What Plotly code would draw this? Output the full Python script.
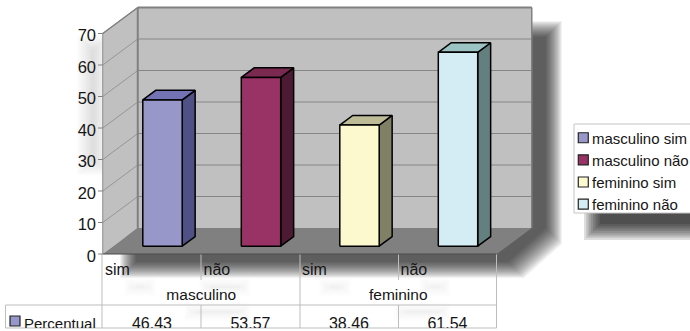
import plotly.graph_objects as go

# Chart values
categories = ["masculino sim", "masculino não", "feminino sim", "feminino não"]
group_labels = ["masculino", "feminino"]
answer_labels = ["sim", "não", "sim", "não"]
values = [46.43, 53.57, 38.46, 61.54]
value_labels = ["46.43", "53.57", "38.46", "61.54"]
y_ticks = [0, 10, 20, 30, 40, 50, 60, 70]
series_name = "Percentual"

# Bar colours: front, top, side
front_colors = ["#9797C9", "#993366", "#FDF9CF", "#D4ECF3"]
top_colors = ["#7272B4", "#7A2950", "#BDBB98", "#9CC3C3"]
side_colors = ["#4E5086", "#4D1A33", "#808067", "#647F7F"]

W, H = 690, 331
PLOT_BOTTOM = 328      # the table's last row is cut off here
X0, X_UNIT = 152.0, 98.5   # pixel position of category 0, pixels per category
Y0, Y_UNIT = 254.0, 3.15   # pixel position of value 0, pixels per unit
DEPTH_X, DEPTH_Y = 35 / X_UNIT, 26 / Y_UNIT  # oblique projection of the floor depth


def proj(cat, val, depth=0.0):
    """Oblique projection from chart space to the flat axes."""
    return cat + depth * DEPTH_X, val + depth * DEPTH_Y


def cat_at(px):
    return (px - X0) / X_UNIT


def val_at(py):
    return (Y0 - py) / Y_UNIT


fig = go.Figure()


def face(points, fill, line_color=None, line_width=0.0):
    xs = [p[0] for p in points]
    ys = [p[1] for p in points]
    fig.add_trace(go.Scatter(
        x=xs + xs[:1], y=ys + ys[:1], mode="lines", fill="toself", fillcolor=fill,
        line=dict(color=line_color or fill, width=line_width), hoverinfo="skip",
    ))


def segment(p, q, color, width=1.0):
    fig.add_trace(go.Scatter(
        x=[p[0], q[0]], y=[p[1], q[1]], mode="lines",
        line=dict(color=color, width=width), hoverinfo="skip",
    ))


def label(x, y, text, position="middle center", size=15.5, color="#151515", xaxis="x", yaxis="y"):
    fig.add_trace(go.Scatter(
        x=[x], y=[y], mode="text", text=[text], textposition=position,
        textfont=dict(family="Liberation Sans", size=size, color=color),
        hoverinfo="skip", xaxis=xaxis, yaxis=yaxis, cliponaxis=True,
    ))


# Walls and floor
LEFT, RIGHT, TOP = -0.5, 3.5, 70
WALL = "#C0C0C0"
GRID = "#868686"
face([proj(LEFT, 0), proj(LEFT, 0, 1), proj(LEFT, TOP, 1), proj(LEFT, TOP)], WALL)
face([proj(LEFT, 0, 1), proj(RIGHT, 0, 1), proj(RIGHT, TOP, 1), proj(LEFT, TOP, 1)], WALL)
face([proj(LEFT, 0), proj(RIGHT, 0), proj(RIGHT, 0, 1), proj(LEFT, 0, 1)], "#808080")

for tick in y_ticks[1:]:
    segment(proj(LEFT, tick), proj(LEFT, tick, 1), "#969696", 1)
    segment(proj(LEFT, tick, 1), proj(RIGHT, tick, 1), GRID, 1)
segment(proj(LEFT, 0), proj(LEFT, TOP), "#8C8C8C", 1)
segment(proj(LEFT, TOP), proj(LEFT, TOP, 1), "#808080", 1.5)
segment(proj(LEFT, 0, 1), proj(LEFT, TOP, 1), "#808080", 2)
segment(proj(LEFT, TOP, 1), proj(RIGHT, TOP, 1), "#808080", 2)
segment(proj(RIGHT, TOP, 1), proj(RIGHT, 0, 1), "#808080", 1.5)
segment(proj(LEFT, 0), proj(RIGHT, 0), "#4A4A4A", 1.2)

# Bars
BAR_HALF = 0.2
D_FRONT, D_BACK = 0.3, 0.67
for i, v in enumerate(values):
    l, r = i - BAR_HALF, i + BAR_HALF
    face([proj(r, 0, D_FRONT), proj(r, 0, D_BACK), proj(r, v, D_BACK), proj(r, v, D_FRONT)],
         side_colors[i], "#000000", 1.5)
    face([proj(l, v, D_FRONT), proj(r, v, D_FRONT), proj(r, v, D_BACK), proj(l, v, D_BACK)],
         top_colors[i], "#000000", 1.5)
    face([proj(l, 0, D_FRONT), proj(r, 0, D_FRONT), proj(r, v, D_FRONT), proj(l, v, D_FRONT)],
         front_colors[i], "#000000", 1.5)

# Value axis ticks and labels
for tick in y_ticks:
    segment(proj(cat_at(98), tick), proj(LEFT, tick), "#808080", 1)
    label(cat_at(96), tick - 1.2, str(tick), "middle left", size=16.5)

# Data table text
for i, answer in enumerate(answer_labels):
    label(i - 0.5 + cat_at(105) - cat_at(102.75), val_at(271), answer, "middle right", size=16)
    label(i, val_at(324.5), value_labels[i], size=16)
for g, group in enumerate(group_labels):
    label(2 * g + 0.5, val_at(296), group, size=15.5)
label(cat_at(24), val_at(325), series_name, "middle right", size=15)
fig.add_trace(go.Scatter(
    x=[cat_at(15)], y=[val_at(321)], mode="markers",
    marker=dict(symbol="square", size=10, color=front_colors[0], line=dict(color="#222222", width=1.2)),
    hoverinfo="skip",
))

# Legend, drawn in its own small axes so the last row is cut at the frame
LEG_L, LEG_R, LEG_T, LEG_B = 574, 690, 124, 213
for row, name in enumerate(categories):
    fig.add_trace(go.Scatter(
        x=[0.08], y=[row], mode="markers",
        marker=dict(symbol="square", size=10, color=front_colors[row], line=dict(color="#222222", width=1.2)),
        hoverinfo="skip", xaxis="x2", yaxis="y2",
    ))
    label(0.155, row + 0.1, name, "middle right", size=15, xaxis="x2", yaxis="y2")


# Soft shadows, built from nested translucent polygons
def to_paper(x, y):
    return x / W, 1 - y / H


def blurred(points, radius, peak, steps=18):
    cx = sum(p[0] for p in points) / len(points)
    cy = sum(p[1] for p in points) / len(points)
    alpha = 1 - (1 - peak) ** (1 / steps)
    shapes = []
    for s in range(steps):
        e = radius * (1 - 2 * s / (steps - 1))
        pts = []
        for x, y in points:
            sx = (x > cx) - (x < cx)
            sy = (y > cy) - (y < cy)
            pts.append(to_paper(x + sx * e, y + sy * e))
        path = "M " + " L ".join(f"{a:.4f},{b:.4f}" for a, b in pts) + " Z"
        shapes.append(dict(type="path", path=path, xref="paper", yref="paper", layer="below",
                           fillcolor=f"rgba(0,0,0,{alpha:.4f})", line=dict(width=0)))
    return shapes


def rect_blur(x0, y0, x1, y1, radius, peak, steps=8):
    return blurred([(x0, y0), (x1, y0), (x1, y1), (x0, y1)], radius, peak, steps)


def rule(x0, y0, x1, y1, color="#BDBDBD"):
    (a, b), (c, d) = to_paper(x0, y0), to_paper(x1, y1)
    return dict(type="line", x0=a, y0=b, x1=c, y1=d, xref="paper", yref="paper", layer="below",
                line=dict(color=color, width=1))


shapes = []
shapes += blurred([(150, 29), (554, 29), (554, 236), (516, 270), (128, 270), (128, 40)], 8, 0.62)
shapes += rect_blur(592, 145, 720, 232, 8, 0.68)
# faint haze round the axis labels and table cells
shapes += rect_blur(84, 42, 102, 168, 7, 0.12)
for x0, x1 in [(130, 150), (205, 245), (325, 345), (425, 445)]:
    shapes += rect_blur(x0, 284, x1, 290, 6, 0.05)
for x0, x1 in [(190, 245), (400, 445)]:
    shapes += rect_blur(x0, 309, x1, 315, 6, 0.05)

# Table rules
for x in [102, 300, 496.5]:
    shapes.append(rule(x, 254, x, PLOT_BOTTOM))
for x in [201, 398.5]:
    shapes.append(rule(x, 254, x, 280))
    shapes.append(rule(x, 305, x, PLOT_BOTTOM))
shapes.append(rule(5.5, 305, 496.5, 305))
shapes.append(rule(5.5, PLOT_BOTTOM, 496.5, PLOT_BOTTOM))
shapes.append(rule(5.5, 305, 5.5, PLOT_BOTTOM))

# Legend frame and its white ground
a, b = to_paper(LEG_L, LEG_T)
c, d = to_paper(LEG_R + 2, LEG_B)
shapes.append(dict(type="rect", x0=a, y0=d, x1=c, y1=b, xref="paper", yref="paper", layer="below",
                   fillcolor="#FFFFFF", line=dict(color="#C4C4C4", width=1)))

hidden = dict(visible=False, fixedrange=True)
fig.update_layout(
    width=W, height=H, autosize=False,
    margin=dict(l=0, r=0, t=0, b=0, pad=0),
    paper_bgcolor="#FFFFFF", plot_bgcolor="rgba(0,0,0,0)",
    showlegend=False, hovermode=False,
    shapes=shapes,
    xaxis=dict(range=[cat_at(0), cat_at(W)], domain=[0, 1], **hidden),
    yaxis=dict(range=[val_at(PLOT_BOTTOM), val_at(0)], domain=[(H - PLOT_BOTTOM) / H, 1], **hidden),
    xaxis2=dict(range=[0, 1], domain=[LEG_L / W, 1], anchor="y2", **hidden),
    yaxis2=dict(range=[3.4, -0.62], domain=[(H - LEG_B) / H, (H - LEG_T) / H], anchor="x2", **hidden),
)

fig.write_html("out.html", config=dict(displayModeBar=False))
